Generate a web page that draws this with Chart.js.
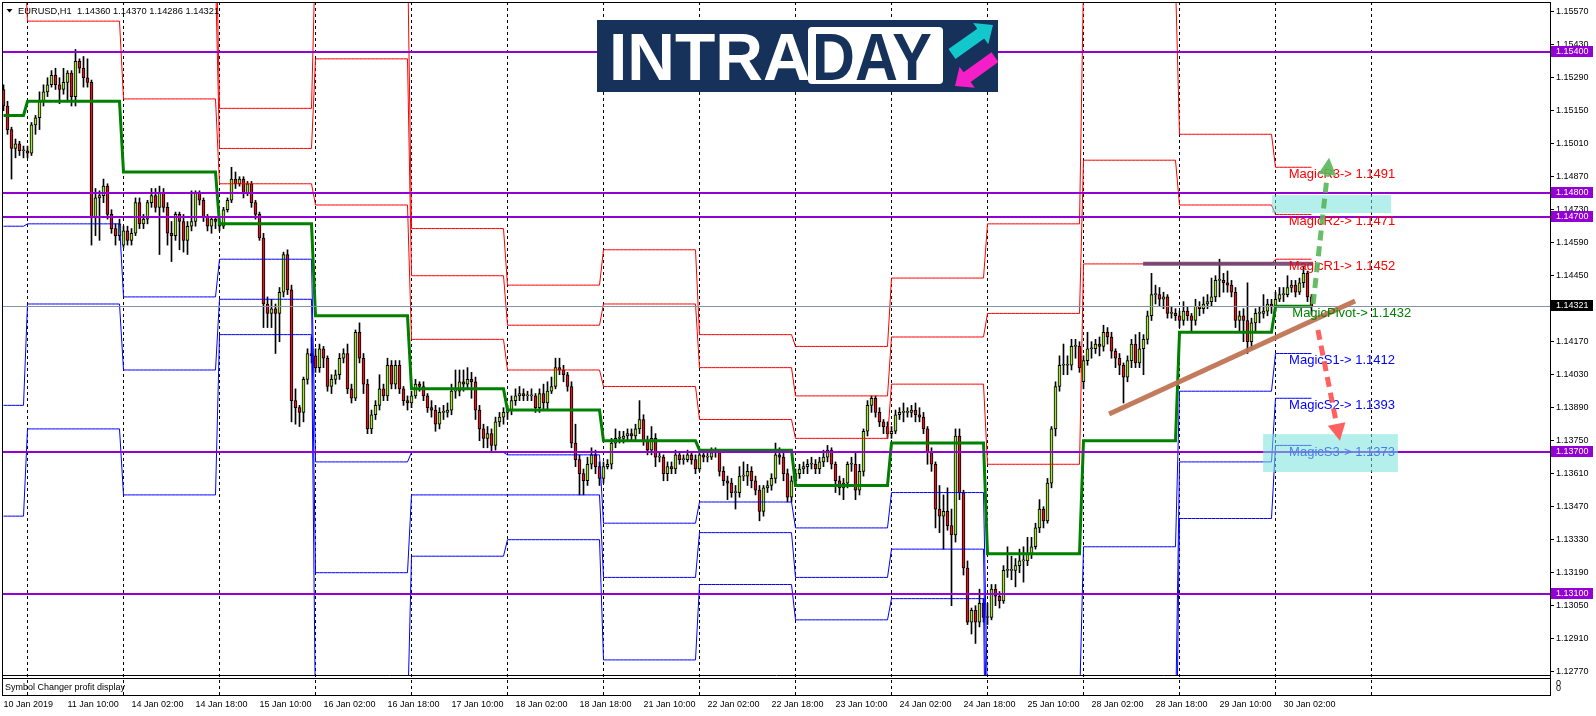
<!DOCTYPE html>
<html>
<head>
<meta charset="utf-8">
<script src="https://cdn.jsdelivr.net/npm/chart.js@4.4.1/dist/chart.umd.min.js"></script>
<style>
html, body { margin: 0; padding: 0; background: #fff; overflow: hidden; }
canvas { display: block; }
</style>
</head>
<body>
<canvas id="chart" width="1596" height="716"></canvas>
<script>
// EURUSD H1, one bar per hour, bar 0 = 10 Jan 18:00
const opens = [
  1.1524,1.1517,1.1507,1.1499,1.1501,1.1498,
  1.1498,1.1497,1.1509,1.1512,1.1519,1.1523,1.1526,1.1530,1.1526,1.1524,1.1527,1.1531,1.1521,1.1536,1.1533,1.1529,1.1527,1.1470,1.1478,1.1479,1.1483,1.1471,1.1465,1.1462,
  1.1458,1.1464,1.1460,1.1463,1.1476,1.1467,1.1469,1.1476,1.1479,1.1474,1.1480,1.1474,1.1463,1.1462,1.1471,1.1468,1.1460,1.1466,1.1468,1.1480,1.1477,1.1470,1.1466,1.1469,
  1.1468,1.1466,1.1473,1.1477,1.1486,1.1484,1.1486,1.1480,1.1484,1.1476,1.1471,1.1461,1.1433,1.1429,1.1431,1.1429,1.1438,1.1454,1.1439,1.1392,1.1389,1.1387,1.1401,1.1412,
  1.1411,1.1406,1.1414,1.1410,1.1398,1.1401,1.1403,1.1410,1.1412,1.1397,1.1393,1.1421,1.1410,1.1399,1.1380,1.1386,1.1390,1.1397,1.1394,1.1407,1.1399,1.1407,1.1397,1.1392,
  1.1391,1.1394,1.1399,1.1398,1.1394,1.1389,1.1388,1.1382,1.1387,1.1387,1.1388,1.1396,1.1396,1.1400,1.1399,1.1401,1.1400,1.1388,1.1380,1.1376,1.1378,1.1373,1.1383,1.1385,
  1.1387,1.1388,1.1392,1.1394,1.1395,1.1394,1.1394,1.1394,1.1389,1.1395,1.1391,1.1396,1.1398,1.1406,1.1405,1.1403,1.1398,1.1374,1.1367,1.1361,1.1358,1.1365,1.1369,1.1364,
  1.1359,1.1364,1.1365,1.1374,1.1376,1.1376,1.1377,1.1378,1.1377,1.1380,1.1384,1.1375,1.1371,1.1376,1.1368,1.1368,1.1361,1.1364,1.1363,1.1369,1.1367,1.1367,1.1369,1.1367,
  1.1363,1.1369,1.1368,1.1368,1.1370,1.1370,1.1362,1.1358,1.1357,1.1353,1.1353,1.1360,1.1360,1.1362,1.1358,1.1354,1.1345,1.1355,1.1356,1.1359,1.1369,1.1368,1.1361,1.1351,
  1.1358,1.1361,1.1363,1.1364,1.1365,1.1365,1.1363,1.1366,1.1368,1.1371,1.1365,1.1358,1.1355,1.1357,1.1365,1.1365,1.1354,1.1362,1.1379,1.1390,1.1393,1.1387,1.1383,1.1381,
  1.1378,1.1379,1.1386,1.1387,1.1387,1.1387,1.1388,1.1386,1.1385,1.1380,1.1370,1.1365,1.1346,1.1343,1.1345,1.1339,1.1335,1.1377,1.1353,1.1321,1.1298,1.1303,1.1298,1.1306,
  1.1300,1.1300,1.1312,1.1309,1.1307,1.1320,1.1320,1.1320,1.1322,1.1324,1.1324,1.1327,1.1330,1.1338,1.1346,1.1341,1.1357,1.1380,1.1398,1.1407,1.1407,1.1407,1.1415,1.1415,
  1.1400,1.1409,1.1414,1.1414,1.1416,1.1415,1.1421,1.1419,1.1413,1.1410,1.1407,1.1402,1.1409,1.1416,1.1408,1.1414,1.1418,1.1428,1.1437,1.1437,1.1435,1.1436,1.1429,1.1429,
  1.1428,1.1426,1.1430,1.1428,1.1426,1.1432,1.1431,1.1433,1.1434,1.1436,1.1443,1.1443,1.1442,1.1441,1.1438,1.1426,1.1428,1.1426,1.1417,1.1425,1.1429,1.1429,1.1430,1.1433,
  1.1432,1.1435,1.1437,1.1437,1.1440,1.1441,1.1438,1.1442,1.1446,1.1436
];
const highs = [
  1.1526,1.1519,1.1508,1.1503,1.1502,1.1500,
  1.1500,1.1510,1.1513,1.1523,1.1526,1.1529,1.1532,1.1533,1.1529,1.1533,1.1532,1.1532,1.1541,1.1537,1.1538,1.1537,1.1528,1.1482,1.1481,1.1486,1.1484,1.1473,1.1467,1.1469,
  1.1466,1.1466,1.1465,1.1478,1.1478,1.1471,1.1477,1.1482,1.1482,1.1483,1.1482,1.1476,1.1468,1.1472,1.1472,1.1471,1.1468,1.1481,1.1481,1.1481,1.1478,1.1471,1.1470,1.1470,
  1.1469,1.1474,1.1478,1.1491,1.1489,1.1487,1.1487,1.1485,1.1485,1.1477,1.1472,1.1463,1.1436,1.1435,1.1433,1.1440,1.1455,1.1456,1.1441,1.1397,1.1390,1.1402,1.1414,1.1419,
  1.1414,1.1416,1.1415,1.1411,1.1403,1.1405,1.1412,1.1414,1.1416,1.1399,1.1422,1.1425,1.1412,1.1401,1.1388,1.1392,1.1403,1.1399,1.1410,1.1409,1.1409,1.1409,1.1398,1.1394,
  1.1396,1.1401,1.1400,1.1400,1.1395,1.1392,1.1390,1.1389,1.1390,1.1391,1.1399,1.1405,1.1405,1.1405,1.1406,1.1404,1.1402,1.1390,1.1382,1.1381,1.1380,1.1385,1.1387,1.1389,
  1.1390,1.1394,1.1397,1.1398,1.1397,1.1396,1.1397,1.1395,1.1397,1.1399,1.1400,1.1402,1.1410,1.1410,1.1407,1.1404,1.1400,1.1382,1.1369,1.1363,1.1368,1.1372,1.1371,1.1366,
  1.1366,1.1367,1.1376,1.1380,1.1379,1.1379,1.1380,1.1380,1.1382,1.1392,1.1386,1.1377,1.1381,1.1378,1.1370,1.1369,1.1366,1.1366,1.1371,1.1370,1.1369,1.1371,1.1370,1.1369,
  1.1371,1.1371,1.1370,1.1372,1.1372,1.1371,1.1364,1.1360,1.1359,1.1356,1.1364,1.1366,1.1365,1.1364,1.1360,1.1356,1.1356,1.1358,1.1361,1.1374,1.1372,1.1370,1.1363,1.1360,
  1.1363,1.1365,1.1366,1.1367,1.1368,1.1367,1.1368,1.1371,1.1373,1.1372,1.1366,1.1360,1.1359,1.1366,1.1368,1.1370,1.1365,1.1380,1.1392,1.1394,1.1394,1.1389,1.1384,1.1383,
  1.1381,1.1388,1.1389,1.1391,1.1389,1.1390,1.1391,1.1389,1.1387,1.1381,1.1372,1.1366,1.1356,1.1352,1.1355,1.1346,1.1380,1.1380,1.1354,1.1324,1.1304,1.1305,1.1312,1.1308,
  1.1306,1.1314,1.1314,1.1311,1.1322,1.1330,1.1326,1.1325,1.1329,1.1330,1.1334,1.1334,1.1340,1.1350,1.1347,1.1359,1.1381,1.1400,1.1411,1.1416,1.1411,1.1418,1.1418,1.1417,
  1.1411,1.1421,1.1417,1.1418,1.1419,1.1424,1.1423,1.1421,1.1414,1.1412,1.1408,1.1411,1.1418,1.1420,1.1421,1.1420,1.1430,1.1446,1.1441,1.1440,1.1438,1.1437,1.1432,1.1431,
  1.1430,1.1434,1.1432,1.1429,1.1435,1.1434,1.1436,1.1437,1.1444,1.1445,1.1452,1.1446,1.1447,1.1443,1.1440,1.1430,1.1431,1.1442,1.1427,1.1431,1.1432,1.1437,1.1435,1.1435,
  1.1438,1.1440,1.1440,1.1445,1.1443,1.1443,1.1444,1.1449,1.1447,1.1437
];
const lows = [
  1.1515,1.1505,1.1486,1.1495,1.1496,1.1495,
  1.1495,1.1496,1.1505,1.1507,1.1517,1.1521,1.1525,1.1524,1.1518,1.1522,1.1519,1.1517,1.1517,1.1531,1.1525,1.1525,1.1458,1.1462,1.1460,1.1476,1.1469,1.1463,1.1458,1.1460,
  1.1457,1.1458,1.1458,1.1462,1.1465,1.1465,1.1467,1.1474,1.1472,1.1454,1.1472,1.1458,1.1451,1.1460,1.1456,1.1455,1.1454,1.1464,1.1466,1.1475,1.1468,1.1464,1.1463,1.1465,
  1.1464,1.1465,1.1472,1.1476,1.1482,1.1483,1.1478,1.1479,1.1474,1.1469,1.1460,1.1423,1.1423,1.1423,1.1412,1.1417,1.1436,1.1437,1.1383,1.1382,1.1381,1.1383,1.1399,1.1408,
  1.1404,1.1404,1.1406,1.1396,1.1395,1.1399,1.1401,1.1408,1.1395,1.1391,1.1392,1.1408,1.1395,1.1378,1.1378,1.1384,1.1388,1.1392,1.1392,1.1397,1.1397,1.1395,1.1390,1.1388,
  1.1389,1.1393,1.1396,1.1392,1.1387,1.1385,1.1379,1.1380,1.1384,1.1385,1.1386,1.1393,1.1394,1.1396,1.1397,1.1393,1.1384,1.1375,1.1372,1.1372,1.1370,1.1371,1.1381,1.1382,
  1.1384,1.1386,1.1390,1.1392,1.1392,1.1392,1.1392,1.1387,1.1387,1.1388,1.1388,1.1395,1.1397,1.1403,1.1400,1.1396,1.1372,1.1364,1.1352,1.1352,1.1356,1.1363,1.1361,1.1356,
  1.1357,1.1363,1.1363,1.1372,1.1374,1.1374,1.1375,1.1375,1.1375,1.1378,1.1373,1.1369,1.1369,1.1364,1.1366,1.1358,1.1358,1.1361,1.1361,1.1365,1.1365,1.1366,1.1365,1.1361,
  1.1362,1.1366,1.1366,1.1367,1.1368,1.1360,1.1356,1.1350,1.1351,1.1346,1.1351,1.1358,1.1356,1.1355,1.1352,1.1341,1.1343,1.1353,1.1354,1.1357,1.1365,1.1358,1.1349,1.1349,
  1.1356,1.1359,1.1361,1.1361,1.1363,1.1361,1.1361,1.1364,1.1366,1.1363,1.1353,1.1352,1.1350,1.1355,1.1362,1.1350,1.1352,1.1360,1.1377,1.1387,1.1385,1.1381,1.1378,1.1376,
  1.1376,1.1378,1.1384,1.1383,1.1385,1.1385,1.1383,1.1383,1.1378,1.1365,1.1362,1.1338,1.1336,1.1329,1.1337,1.1305,1.1332,1.1350,1.1318,1.1297,1.1293,1.1289,1.1296,1.1298,
  1.1297,1.1299,1.1305,1.1304,1.1306,1.1317,1.1316,1.1313,1.1319,1.1315,1.1322,1.1325,1.1329,1.1336,1.1338,1.1340,1.1355,1.1377,1.1396,1.1403,1.1403,1.1405,1.1410,1.1404,
  1.1397,1.1407,1.1410,1.1412,1.1411,1.1413,1.1416,1.1410,1.1406,1.1403,1.1391,1.1400,1.1406,1.1406,1.1406,1.1403,1.1416,1.1426,1.1433,1.1432,1.1431,1.1427,1.1427,1.1426,
  1.1423,1.1424,1.1426,1.1421,1.1424,1.1428,1.1429,1.1431,1.1432,1.1434,1.1436,1.1438,1.1438,1.1436,1.1423,1.1421,1.1417,1.1412,1.1414,1.1421,1.1425,1.1427,1.1428,1.1429,
  1.1430,1.1434,1.1434,1.1436,1.1438,1.1436,1.1437,1.1440,1.1434,1.14286
];
const closes = [
  1.1517,1.1507,1.1499,1.1501,1.1498,1.1498,
  1.1497,1.1509,1.1512,1.1519,1.1523,1.1526,1.1530,1.1526,1.1524,1.1527,1.1531,1.1521,1.1536,1.1533,1.1529,1.1527,1.1470,1.1478,1.1479,1.1483,1.1471,1.1465,1.1462,1.1467,
  1.1464,1.1460,1.1463,1.1476,1.1467,1.1469,1.1476,1.1479,1.1474,1.1480,1.1474,1.1463,1.1462,1.1471,1.1468,1.1460,1.1466,1.1468,1.1480,1.1477,1.1470,1.1466,1.1469,1.1468,
  1.1466,1.1473,1.1477,1.1486,1.1484,1.1486,1.1480,1.1484,1.1476,1.1471,1.1461,1.1433,1.1429,1.1431,1.1429,1.1438,1.1454,1.1439,1.1392,1.1389,1.1387,1.1401,1.1412,1.1411,
  1.1406,1.1414,1.1410,1.1398,1.1401,1.1403,1.1410,1.1412,1.1397,1.1393,1.1421,1.1410,1.1399,1.1380,1.1386,1.1390,1.1397,1.1394,1.1407,1.1399,1.1407,1.1397,1.1392,1.1391,
  1.1394,1.1399,1.1398,1.1394,1.1389,1.1388,1.1382,1.1387,1.1387,1.1388,1.1396,1.1396,1.1400,1.1399,1.1401,1.1400,1.1388,1.1380,1.1376,1.1378,1.1373,1.1383,1.1385,1.1387,
  1.1388,1.1392,1.1394,1.1395,1.1394,1.1394,1.1394,1.1389,1.1395,1.1391,1.1396,1.1398,1.1406,1.1405,1.1403,1.1398,1.1374,1.1367,1.1361,1.1358,1.1365,1.1369,1.1364,1.1359,
  1.1364,1.1365,1.1374,1.1376,1.1376,1.1377,1.1378,1.1377,1.1380,1.1384,1.1375,1.1371,1.1376,1.1368,1.1368,1.1361,1.1364,1.1363,1.1369,1.1367,1.1367,1.1369,1.1367,1.1363,
  1.1369,1.1368,1.1368,1.1370,1.1370,1.1362,1.1358,1.1357,1.1353,1.1353,1.1360,1.1360,1.1362,1.1358,1.1354,1.1345,1.1355,1.1356,1.1359,1.1369,1.1368,1.1361,1.1351,1.1358,
  1.1361,1.1363,1.1364,1.1365,1.1365,1.1363,1.1366,1.1368,1.1371,1.1365,1.1358,1.1355,1.1357,1.1365,1.1365,1.1354,1.1362,1.1379,1.1390,1.1393,1.1387,1.1383,1.1381,1.1378,
  1.1379,1.1386,1.1387,1.1387,1.1387,1.1388,1.1386,1.1385,1.1380,1.1370,1.1365,1.1346,1.1343,1.1345,1.1339,1.1335,1.1377,1.1353,1.1321,1.1298,1.1303,1.1298,1.1306,1.1300,
  1.1300,1.1312,1.1309,1.1307,1.1320,1.1320,1.1320,1.1322,1.1324,1.1324,1.1327,1.1330,1.1338,1.1346,1.1341,1.1357,1.1380,1.1398,1.1407,1.1407,1.1407,1.1415,1.1415,1.1406,
  1.1409,1.1414,1.1414,1.1416,1.1415,1.1421,1.1419,1.1413,1.1410,1.1407,1.1402,1.1409,1.1416,1.1408,1.1414,1.1418,1.1428,1.1437,1.1437,1.1435,1.1436,1.1429,1.1429,1.1428,
  1.1426,1.1430,1.1428,1.1426,1.1432,1.1431,1.1433,1.1434,1.1436,1.1443,1.1443,1.1442,1.1441,1.1438,1.1426,1.1428,1.1426,1.1417,1.1425,1.1429,1.1429,1.1430,1.1433,1.1432,
  1.1435,1.1437,1.1437,1.1440,1.1441,1.1438,1.1442,1.1446,1.1436,1.14321
];

// daily pivot levels, one value per trading day (10 Jan .. 30 Jan)
const dayStart = [0, 6, 30, 54, 78, 102, 126, 150, 174, 198, 222, 246, 270, 294, 318];
const pivot = [1.1513,1.1519,1.1489,1.1467,1.1428,1.1397,1.1388,1.1375,1.1371,1.1356,1.1374,1.1327,1.1375,1.1421,1.1432];
const res1  = [1.1589,1.1553,1.1520,1.1484,1.1475,1.1418,1.1405,1.1398,1.1384,1.1376,1.1399,1.1365,1.1450,1.1450,1.1452];
const res2  = [1.1636,1.1605,1.1573,1.1499,1.1537,1.1445,1.1424,1.1433,1.1406,1.1394,1.1419,1.1429,1.1494,1.1475,1.1471];
const res3  = [1.1712,1.1639,1.1604,1.1516,1.1584,1.1465,1.1441,1.1456,1.1420,1.1415,1.1444,1.1467,1.1570,1.1505,1.1491];
const sup1  = [1.1466,1.1467,1.1436,1.1452,1.1366,1.1370,1.1369,1.1340,1.1349,1.1338,1.1353,1.1263,1.1330,1.1396,1.1412];
const sup2  = [1.1390,1.1433,1.1405,1.1435,1.1319,1.1352,1.1352,1.1317,1.1336,1.1317,1.1329,1.1225,1.1255,1.1366,1.1393];
const sup3  = [1.1343,1.1380,1.1352,1.1420,1.1257,1.1326,1.1333,1.1282,1.1314,1.1299,1.1308,1.1161,1.1210,1.1342,1.1373];

// day separators (bar index of each day open)
const sepBars = [6, 30, 54, 78, 102, 126, 150, 174, 198, 222, 246, 270, 294, 318, 342];

// axis ticks
const xTickBars = [0,16,32,48,64,80,96,112,128,144,160,176,192,208,224,240,256,272,288,304,320];
const xTickLabels = ['10 Jan 2019','11 Jan 10:00','14 Jan 02:00','14 Jan 18:00','15 Jan 10:00','16 Jan 02:00',
  '16 Jan 18:00','17 Jan 10:00','18 Jan 02:00','18 Jan 18:00','21 Jan 10:00','22 Jan 02:00','22 Jan 18:00',
  '23 Jan 10:00','24 Jan 02:00','24 Jan 18:00','25 Jan 10:00','28 Jan 02:00','28 Jan 18:00','29 Jan 10:00','30 Jan 02:00'];
const yTicks = [1.1557,1.1543,1.1529,1.1515,1.1501,1.1487,1.1473,1.1459,1.1445,1.1431,1.1417,1.1403,
  1.1389,1.1375,1.1361,1.1347,1.1333,1.1319,1.1305,1.1291,1.1277];

// drawn objects
const hLevels = [1.1540, 1.1480, 1.1470, 1.1370, 1.1310];
const bidPrice = 1.14321;
const trendLine = [[276.4, 1.13863], [337.9, 1.14343]];
const highBar = [[284.9, 1.14501], [327.4, 1.14501]];
const zones = [[317.1, 1.14792, 346.9, 1.14716], [314.9, 1.13778, 348.6, 1.13617]];
const upArrow = [[327.4, 1.1433], [331.4, 1.1495]];
const downArrow = [[328.6, 1.1422], [334.1, 1.1375]];
const magicText = ['MagicR3-> 1.1491','MagicR2-> 1.1471','MagicR1-> 1.1452','MagicPivot-> 1.1432','MagicS1-> 1.1412','MagicS2-> 1.1393','MagicS3-> 1.1373'];
const magicLevel = [1.1491, 1.1471, 1.1452, 1.1432, 1.1412, 1.1393, 1.1373];
const magicColor = ['#ff0000','#ff0000','#ff0000','#008000','#0000ff','#0000ff','#0000ff'];
const magicBar = [321.3, 321.3, 321.3, 322.2, 321.4, 321.4, 321.4];

const FONT = "'Liberation Sans', Arial, sans-serif";
const BULL = '#a2e23a';
const BEAR = '#d21c1c';

function dayOf(i) {
  let d = 0;
  while (d + 1 < dayStart.length && dayStart[d + 1] <= i) d++;
  return d;
}
const levelData = arr => closes.map((c, i) => ({ x: i, y: arr[dayOf(i)] }));

const wickData = closes.map((c, i) => ({ x: i, y: [lows[i], highs[i]] }));
const bodyData = closes.map((c, i) => ({ x: i, y: [opens[i], c] }));
const bodyColors = closes.map((c, i) => c >= opens[i] ? BULL : BEAR);

function levelSet(label, arr, color, width, order) {
  return {
    type: 'line', label, data: levelData(arr), borderColor: color, borderWidth: width,
    pointRadius: 0, tension: 0, fill: false, order
  };
}

const overlay = {
  id: 'overlay',
  beforeDatasetsDraw(chart) {
    const { ctx, chartArea: a, scales: { x } } = chart;
    ctx.save();
    ctx.strokeStyle = '#000';
    ctx.lineWidth = 1;
    ctx.setLineDash([3, 3]);
    sepBars.forEach(b => {
      const px = Math.round(x.getPixelForValue(b) - 0.5) + 0.5;
      ctx.beginPath();
      ctx.moveTo(px, a.top);
      ctx.lineTo(px, 695);
      ctx.stroke();
    });
    ctx.restore();
  },
  afterDatasetsDraw(chart) {
    const { ctx, chartArea: a, scales: { x, y } } = chart;
    const px = v => x.getPixelForValue(v);
    const py = v => y.getPixelForValue(v);

    ctx.save();
    ctx.beginPath();
    ctx.rect(a.left, a.top, a.right - a.left, a.bottom - a.top);
    ctx.clip();

    // bid line
    ctx.strokeStyle = '#8494a4';
    ctx.lineWidth = 1;
    ctx.beginPath();
    ctx.moveTo(a.left, Math.round(py(bidPrice)) + 0.5);
    ctx.lineTo(a.right, Math.round(py(bidPrice)) + 0.5);
    ctx.stroke();

    // horizontal levels
    ctx.strokeStyle = '#9400d3';
    ctx.lineWidth = 2;
    hLevels.forEach(l => {
      const yy = Math.round(py(l));
      ctx.beginPath();
      ctx.moveTo(a.left, yy);
      ctx.lineTo(a.right, yy);
      ctx.stroke();
    });

    // short resistance bar
    ctx.strokeStyle = 'rgba(112,62,112,0.9)';
    ctx.lineWidth = 4;
    ctx.beginPath();
    ctx.moveTo(px(highBar[0][0]), py(highBar[0][1]));
    ctx.lineTo(px(highBar[1][0]), py(highBar[1][1]));
    ctx.stroke();

    // trend line
    ctx.strokeStyle = 'rgba(192,116,84,0.95)';
    ctx.lineWidth = 5;
    ctx.beginPath();
    ctx.moveTo(px(trendLine[0][0]), py(trendLine[0][1]));
    ctx.lineTo(px(trendLine[1][0]), py(trendLine[1][1]));
    ctx.stroke();

    // magic labels
    ctx.font = '13px ' + FONT;
    ctx.textBaseline = 'top';
    ctx.textAlign = 'left';
    magicText.forEach((t, i) => {
      ctx.fillStyle = magicColor[i];
      ctx.fillText(t, px(magicBar[i]), py(magicLevel[i]) + 0.5);
    });

    // zones
    ctx.fillStyle = 'rgba(120,225,218,0.55)';
    zones.forEach(z => {
      ctx.fillRect(px(z[0]), py(z[1]), px(z[2]) - px(z[0]), py(z[3]) - py(z[1]));
    });

    // dashed arrows
    drawArrow(ctx, px(upArrow[0][0]), py(upArrow[0][1]), px(upArrow[1][0]), py(upArrow[1][1]), 'rgba(88,182,88,0.9)');
    drawArrow(ctx, px(downArrow[0][0]), py(downArrow[0][1]), px(downArrow[1][0]), py(downArrow[1][1]), 'rgba(255,82,82,0.92)');
    ctx.restore();

    drawLogo(ctx);

    // header
    ctx.save();
    ctx.fillStyle = '#000';
    ctx.beginPath();
    ctx.moveTo(6.5, 9); ctx.lineTo(12.5, 9); ctx.lineTo(9.5, 12.5); ctx.closePath();
    ctx.fill();
    ctx.font = '9.3px ' + FONT;
    ctx.textBaseline = 'middle';
    ctx.fillText('EURUSD,H1  1.14360 1.14370 1.14286 1.14321', 18, 11);

    // frame and sub window
    ctx.strokeStyle = '#000';
    ctx.lineWidth = 1;
    ctx.beginPath();
    ctx.moveTo(2.5, 2); ctx.lineTo(2.5, 696);
    ctx.moveTo(2, 2.5); ctx.lineTo(a.right, 2.5);
    ctx.moveTo(2, 678.5); ctx.lineTo(a.right, 678.5);
    ctx.moveTo(2, 695.5); ctx.lineTo(a.right, 695.5);
    ctx.moveTo(a.right + 0.5, 675); ctx.lineTo(a.right + 0.5, 696);
    ctx.stroke();
    ctx.font = '9px ' + FONT;
    ctx.fillText('Symbol Changer profit display', 5, 687.5);
    ctx.fillText('0', 1556, 684);
    ctx.fillText('0', 1556, 689);

    // price boxes on the axis
    ctx.font = '9px ' + FONT;
    hLevels.forEach(l => priceBox(ctx, py(l), l.toFixed(5), '#9400d3'));
    priceBox(ctx, py(bidPrice), bidPrice.toFixed(5), '#000');
    ctx.restore();
  }
};

function priceBox(ctx, yy, text, color) {
  ctx.fillStyle = color;
  ctx.fillRect(1551, Math.round(yy) - 6, 42, 11);
  ctx.fillStyle = '#fff';
  ctx.textBaseline = 'middle';
  ctx.fillText(text, 1556, Math.round(yy) - 0.5);
}

function drawArrow(ctx, x0, y0, x1, y1, color) {
  const ang = Math.atan2(y1 - y0, x1 - x0);
  const headLen = 17, headW = 9;
  const bx = x1 - Math.cos(ang) * headLen, by = y1 - Math.sin(ang) * headLen;
  ctx.strokeStyle = color;
  ctx.lineWidth = 5;
  ctx.setLineDash([10, 6]);
  ctx.beginPath();
  ctx.moveTo(x0, y0);
  ctx.lineTo(bx, by);
  ctx.stroke();
  ctx.setLineDash([]);
  ctx.fillStyle = color;
  ctx.beginPath();
  ctx.moveTo(x1, y1);
  ctx.lineTo(bx + Math.sin(ang) * headW, by - Math.cos(ang) * headW);
  ctx.lineTo(bx - Math.sin(ang) * headW, by + Math.cos(ang) * headW);
  ctx.closePath();
  ctx.fill();
}

function logoArrow(ctx, x0, y0, x1, y1, color) {
  const ang = Math.atan2(y1 - y0, x1 - x0);
  const len = Math.hypot(x1 - x0, y1 - y0);
  ctx.save();
  ctx.translate(x0, y0);
  ctx.rotate(ang);
  ctx.fillStyle = color;
  ctx.beginPath();
  ctx.moveTo(0, -6); ctx.lineTo(len - 15, -6); ctx.lineTo(len - 15, -13);
  ctx.lineTo(len, 0);
  ctx.lineTo(len - 15, 13); ctx.lineTo(len - 15, 6); ctx.lineTo(0, 6);
  ctx.closePath();
  ctx.fill();
  ctx.restore();
}

function drawLogo(ctx) {
  ctx.save();
  ctx.fillStyle = '#17325a';
  ctx.fillRect(597, 20, 401, 72);
  ctx.font = 'bold 66px ' + FONT;
  ctx.textBaseline = 'alphabetic';
  ctx.fillStyle = '#fff';
  ctx.fillText('INTRA', 609, 80);
  // white box with DAY
  ctx.beginPath();
  ctx.roundRect(808, 27, 135, 57, 4);
  ctx.fillStyle = '#fff';
  ctx.fill();
  ctx.save();
  ctx.translate(812, 80);
  ctx.scale(0.9, 1);
  ctx.fillStyle = '#17325a';
  ctx.fillText('DAY', 0, 0);
  ctx.restore();
  ctx.beginPath();
  ctx.rect(597, 20, 401, 72);
  ctx.clip();
  logoArrow(ctx, 952, 54, 993, 25, '#13c8cc');
  logoArrow(ctx, 995, 57, 955, 86, '#f41fc6');
  ctx.restore();
}

new Chart(document.getElementById('chart'), {
  type: 'bar',
  data: {
    datasets: [
      { type: 'bar', label: 'wick', data: wickData, backgroundColor: '#000', barThickness: 1, maxBarThickness: 1, grouped: false, order: 10 },
      { type: 'bar', label: 'body', data: bodyData, backgroundColor: bodyColors, borderColor: '#000', borderWidth: 1,
        borderSkipped: false, barThickness: 3, maxBarThickness: 3, minBarLength: 1, grouped: false, order: 9 },
      levelSet('R3', res3, '#ff0000', 1, 5),
      levelSet('R2', res2, '#ff0000', 1, 5),
      levelSet('R1', res1, '#ff0000', 1, 5),
      levelSet('S1', sup1, '#0000ff', 1, 5),
      levelSet('S2', sup2, '#0000ff', 1, 5),
      levelSet('S3', sup3, '#0000ff', 1, 5),
      levelSet('Pivot', pivot, '#008000', 3, 1)
    ]
  },
  options: {
    responsive: false,
    devicePixelRatio: 1,
    animation: false,
    layout: { padding: { left: 2, top: 2, right: 0, bottom: 0 } },
    plugins: { legend: { display: false }, tooltip: { enabled: false } },
    scales: {
      x: {
        type: 'linear', min: -0.375, max: 386.625, offset: false, bounds: 'data',
        afterBuildTicks: s => { s.ticks = xTickBars.map(v => ({ value: v })); },
        afterFit: s => { s.height = 41; s.paddingLeft = 0; s.paddingRight = 0; },
        ticks: { autoSkip: false, maxRotation: 0, minRotation: 0, align: 'start', padding: 24, color: '#000',
          font: { family: FONT, size: 9 }, callback: (v, i) => xTickLabels[i] },
        grid: { display: false, drawTicks: false },
        border: { display: true, color: '#000' }
      },
      y: {
        type: 'linear', position: 'right', min: 1.12756, max: 1.156112, bounds: 'data',
        afterBuildTicks: s => { s.ticks = yTicks.map(v => ({ value: v })); },
        afterFit: s => { s.width = 46; s.paddingTop = 0; s.paddingBottom = 0; },
        ticks: { autoSkip: false, padding: 2, color: '#000', font: { family: FONT, size: 9 }, callback: v => v.toFixed(5) },
        grid: { drawOnChartArea: false, drawTicks: true, tickLength: 4, color: '#000' },
        border: { display: true, color: '#000' }
      }
    }
  },
  plugins: [overlay]
});
</script>
</body>
</html>
